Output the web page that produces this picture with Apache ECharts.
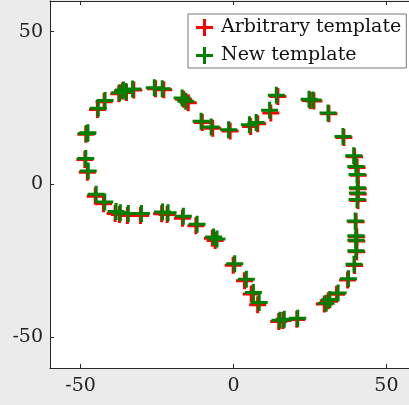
<!DOCTYPE html>
<html>
<head>
<meta charset="utf-8">
<script src="https://cdn.jsdelivr.net/npm/echarts@6/dist/echarts.min.js"></script>
<style>
html,body{margin:0;padding:0;background:#ebebeb;overflow:hidden;width:409px;height:405px;}
#c{width:430px;height:405px;}
</style>
</head>
<body>
<div id="c"></div>
<script>
const seriesNames = ['Arbitrary template', 'New template'];
const tickValues = [-50, 0, 50];

const arbitraryX = [-47.8,-48.6,-48.3,-47.8,-44.5,-42.3,-37.5,-36.3,-35.0,-32.6,-25.5,-22.8,-16.3,-14.8,-10.2,-6.8,-1.1,5.6,7.9,12.2,14.5,25.1,26.3,31.2,36.1,39.6,40.4,40.8,40.8,40.8,40.7,40.1,40.3,40.3,40.3,39.6,37.3,33.7,31.0,29.7,20.7,16.2,14.8,7.9,5.8,3.6,-0.1,-6.0,-6.9,-12.3,-16.7,-21.7,-23.5,-30.4,-34.7,-37.3,-38.7,-42.5,-45.2];
const arbitraryY = [4.0,8.2,16.4,16.7,24.5,27.1,29.7,30.6,30.1,30.9,31.3,31.0,27.9,26.7,20.3,18.4,17.5,19.0,19.9,23.4,28.8,27.5,27.3,23.1,15.4,9.1,5.6,3.0,-1.4,-3.1,-5.2,-12.2,-17.1,-18.5,-22.0,-26.5,-31.2,-35.9,-38.0,-39.1,-44.1,-44.5,-44.8,-39.3,-35.8,-31.5,-26.4,-18.3,-17.6,-13.5,-11.0,-9.8,-9.6,-10.1,-10.1,-9.8,-9.5,-6.3,-3.8];

const newX = [-47.5,-48.3,-48.0,-47.6,-44.2,-42.0,-37.2,-36.0,-35.2,-33.0,-25.9,-23.3,-16.8,-15.6,-10.6,-7.3,-1.6,5.2,7.4,11.8,14.0,24.7,26.0,30.9,35.8,39.3,40.0,40.4,40.5,40.5,40.4,39.8,40.0,40.0,40.0,39.4,37.6,34.2,31.5,30.3,21.0,16.6,15.2,8.4,6.5,4.2,0.4,-5.4,-6.5,-11.9,-16.4,-21.4,-23.2,-30.1,-34.4,-37.0,-38.4,-42.1,-44.9];
const newY = [4.4,8.5,16.7,16.9,24.9,27.5,30.0,30.9,30.4,31.2,31.6,31.3,28.3,27.2,20.7,18.8,17.9,19.5,20.3,24.3,29.2,27.9,27.6,23.4,15.7,9.4,5.9,3.3,-1.1,-2.8,-4.9,-11.9,-16.8,-18.2,-21.7,-26.1,-30.8,-35.5,-37.6,-38.8,-43.7,-44.1,-44.4,-38.6,-35.3,-31.0,-25.9,-17.8,-17.2,-13.0,-10.4,-9.2,-9.0,-9.5,-9.5,-9.2,-8.8,-5.7,-3.2];

const plusPath = 'path://M0,7.4H7.4V0H10.6V7.4H18V10.6H10.6V18H7.4V10.6H0Z';
const font = 'DejaVu Serif';
const axisColor = '#262626';

function pairs(xs, ys){ return xs.map((x,i)=>[x, ys[i]]); }

const chart = echarts.init(document.getElementById('c'), null, {renderer:'canvas'});
chart.setOption({
  animation: false,
  backgroundColor: '#ebebeb',
  grid: {left: 50, top: 1, width: 367, height: 367, show: true, backgroundColor: '#ffffff', borderWidth: 0},
  legend: {
    orient: 'vertical', left: 188, top: 14,
    backgroundColor: '#ffffff', borderColor: '#777777', borderWidth: 1,
    padding: [4, 5, 3, 8], itemWidth: 17, itemHeight: 17, itemGap: 9,
    textStyle: {fontFamily: font, fontSize: 19, color: '#111', padding: [0,0,0,3]},
    data: [{name: seriesNames[0], icon: plusPath}, {name: seriesNames[1], icon: plusPath}]
  },
  xAxis: [{
    type: 'value', min: -60, max: 60, position: 'bottom',
    splitLine: {show: false},
    axisLine: {show: true, onZero: false, lineStyle: {color: axisColor, width: 1}},
    axisTick: {show: true, inside: true, length: 4, customValues: tickValues, lineStyle: {color: axisColor}},
    axisLabel: {customValues: tickValues, margin: 9, fontFamily: font, fontSize: 19, color: '#222'}
  }, {
    type: 'value', min: -60, max: 60, position: 'top',
    splitLine: {show: false},
    axisLine: {show: true, onZero: false, lineStyle: {color: axisColor, width: 1}},
    axisTick: {show: true, inside: true, length: 4, customValues: tickValues, lineStyle: {color: axisColor}},
    axisLabel: {show: false}
  }],
  yAxis: [{
    type: 'value', min: -60, max: 60, position: 'left',
    splitLine: {show: false},
    axisLine: {show: true, onZero: false, lineStyle: {color: axisColor, width: 1}},
    axisTick: {show: true, inside: true, length: 4, customValues: tickValues, lineStyle: {color: axisColor}},
    axisLabel: {customValues: tickValues, margin: 7, fontFamily: font, fontSize: 19, color: '#222'}
  }],
  series: [{
    name: seriesNames[0], type: 'scatter', symbol: plusPath, symbolSize: 17,
    itemStyle: {color: '#ff0000', opacity: 1},
    data: pairs(arbitraryX, arbitraryY), z: 2
  }, {
    name: seriesNames[1], type: 'scatter', symbol: plusPath, symbolSize: 17,
    itemStyle: {color: '#008000', opacity: 1},
    data: pairs(newX, newY), z: 3
  }]
});
</script>
</body>
</html>
